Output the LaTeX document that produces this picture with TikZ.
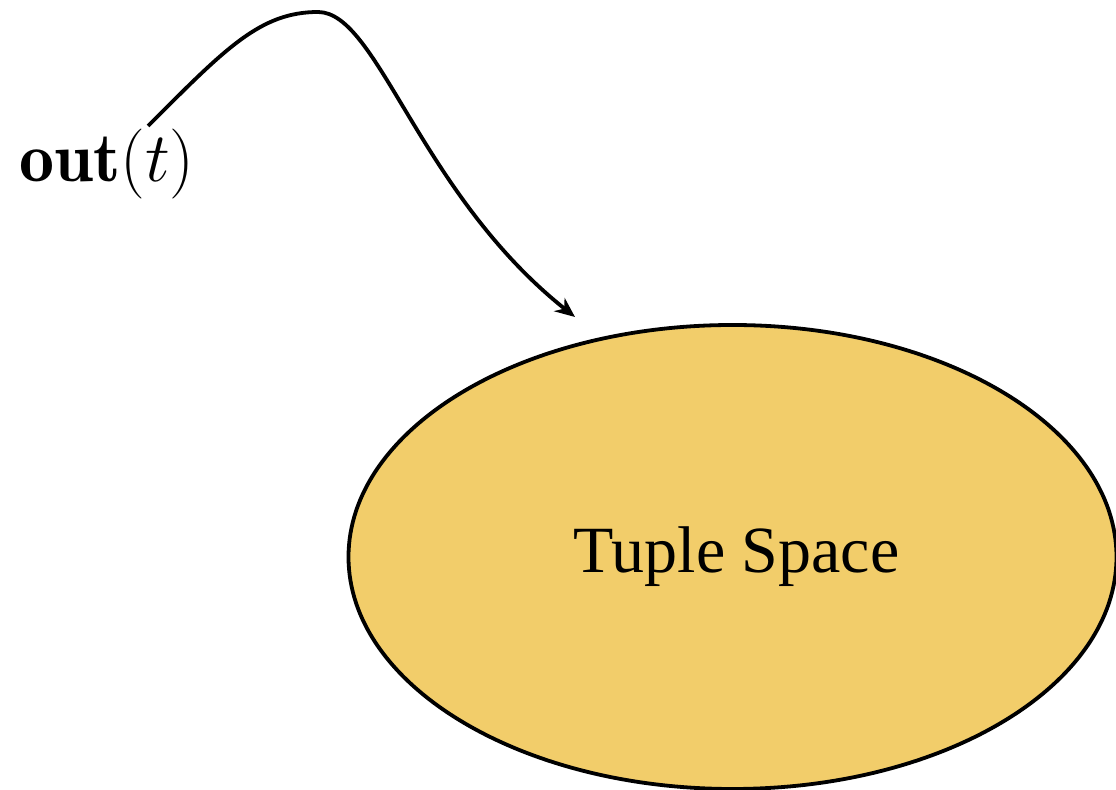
\RequirePackage{fix-cm}
\documentclass[tikz,border=0pt]{standalone}
\usepackage{fontspec}
\newfontfamily\tnr{Liberation Serif}
\usetikzlibrary{shapes.geometric,arrows.meta}
\definecolor{tsfill}{RGB}{242,205,106}
\begin{document}
\begin{tikzpicture}[x=0.5pt,y=-0.5pt,
  spacenode/.style={ellipse,draw=black,line width=1.9pt,fill=tsfill,minimum width=384pt,minimum height=232pt,inner sep=0pt,font=\tnr\fontsize{33}{40}\selectfont},
  oplabel/.style={font=\fontsize{35}{42}\selectfont,inner sep=0pt,anchor=base},
  flow/.style={line width=1.9pt,-{Stealth[length=10pt,width=8.5pt]}}]
\useasboundingbox (0,0) rectangle (1116,790);
\node[spacenode] (ts) at (732.5,557) {\hspace*{4pt}Tuple Space};
\node[oplabel] (out) at (107,182) {$\mathbf{out}(t)$};
\coordinate (start) at (148,126);
\coordinate (peak) at (318,12);
\coordinate (tip) at (575,317);
\draw[flow] (start) .. controls (225,49) and (260,12) .. (peak) .. controls (378,12) and (419,193) .. (tip);
\end{tikzpicture}
\end{document}
